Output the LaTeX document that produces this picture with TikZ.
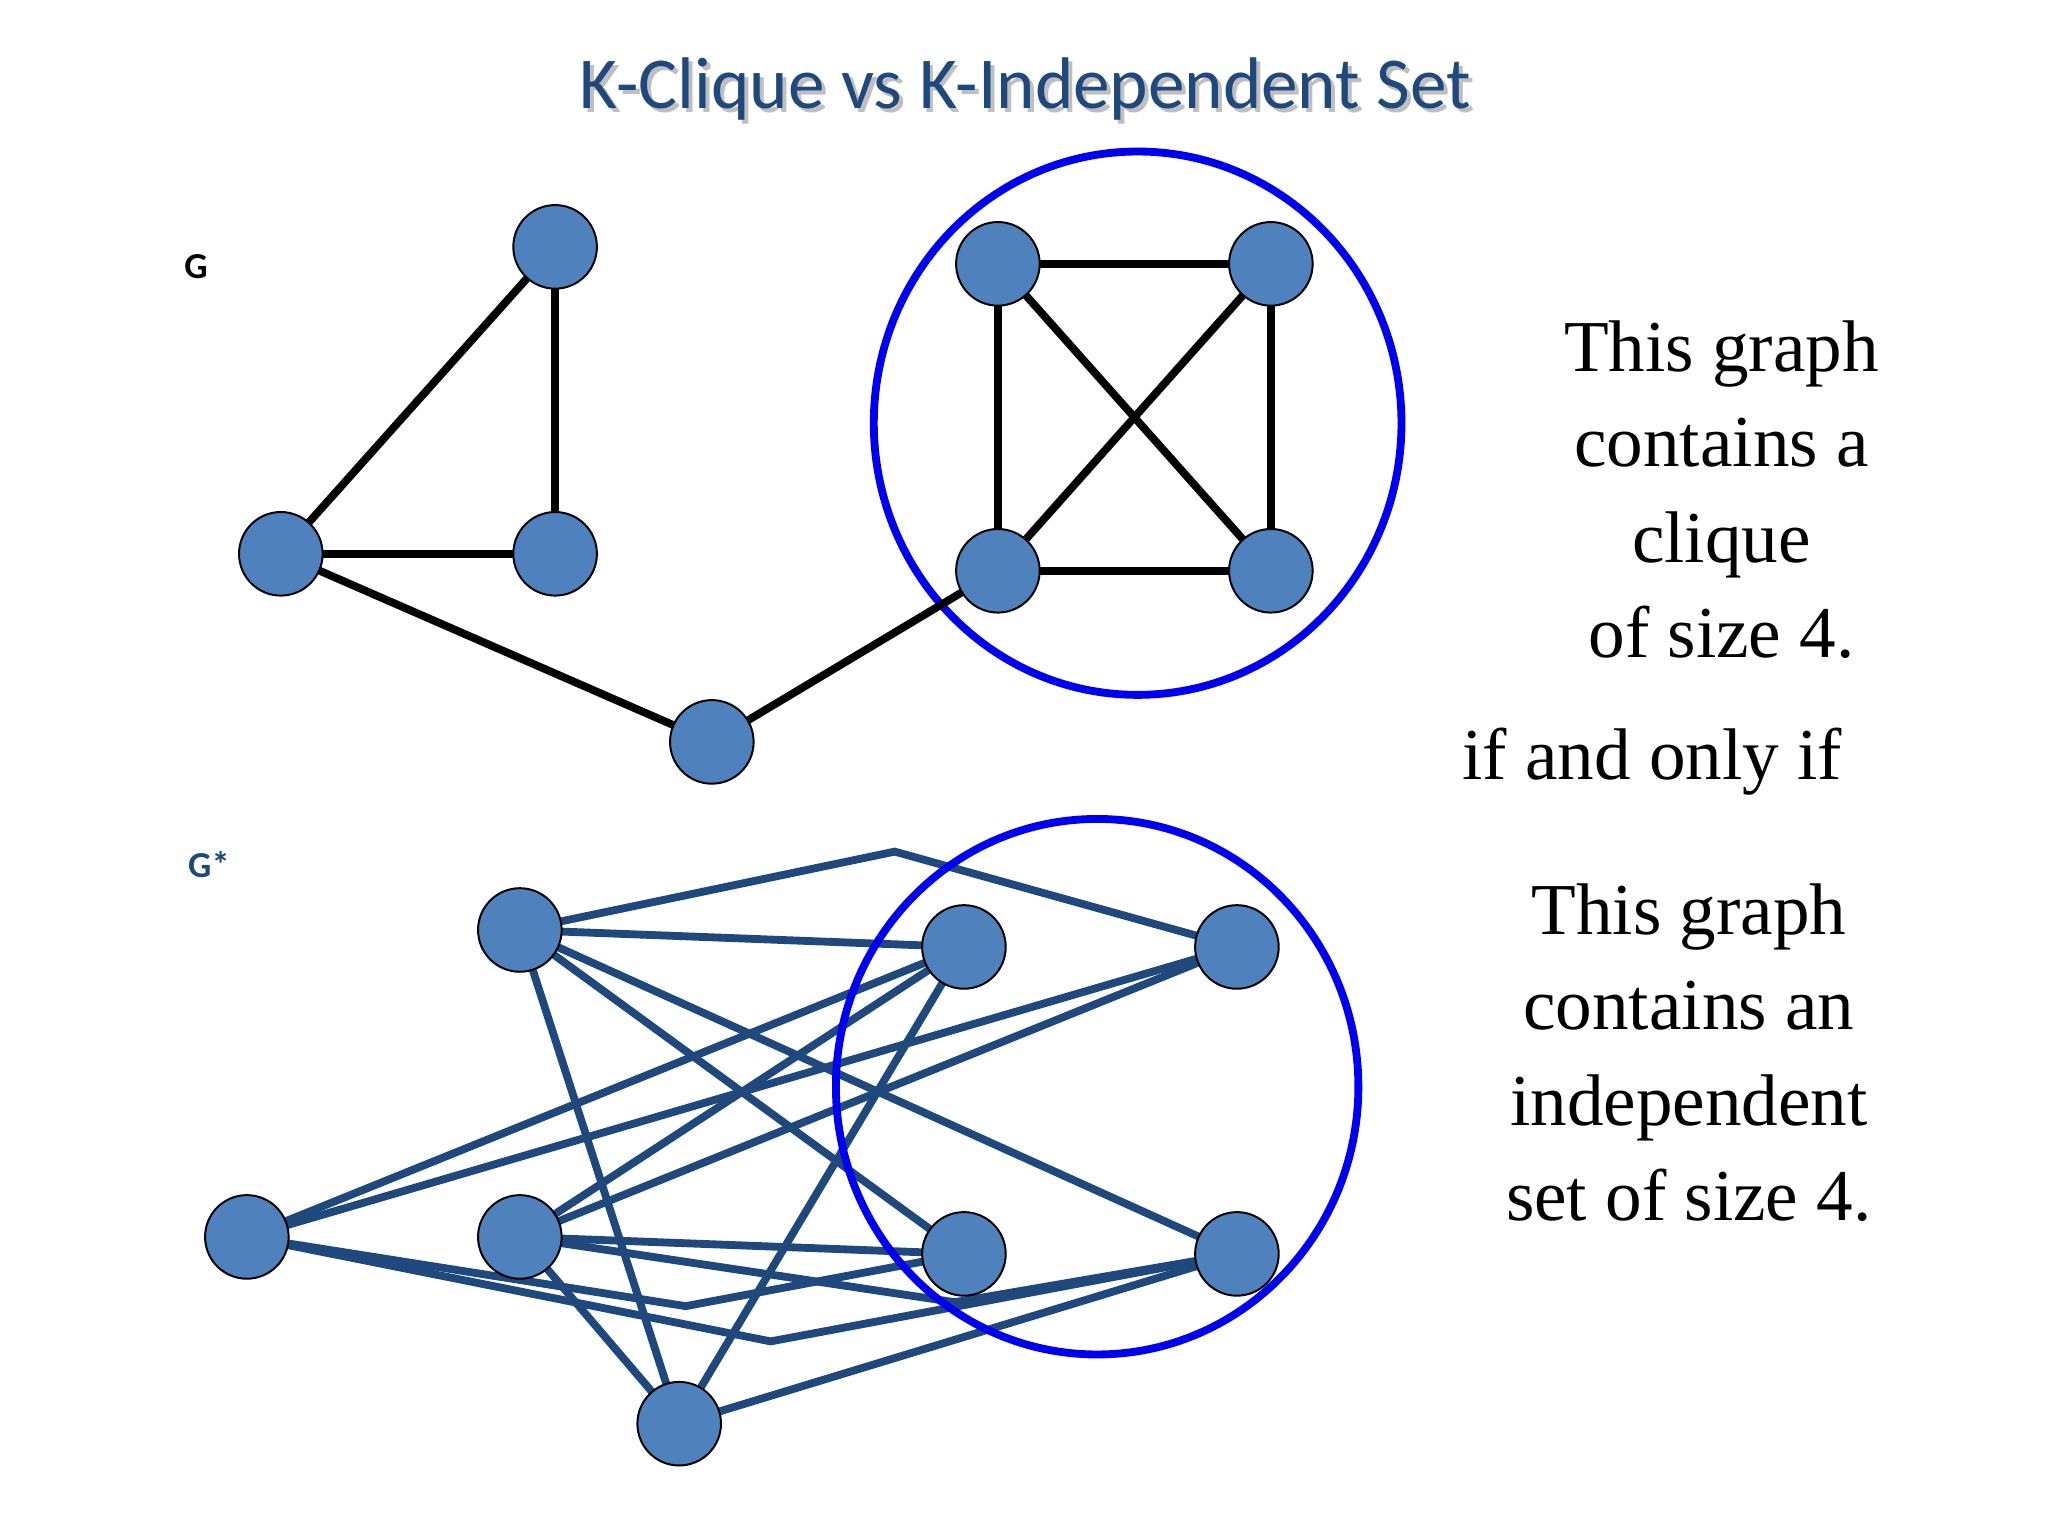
\documentclass[tikz,border=0pt]{standalone}
\usepackage{fontspec}
\setmainfont{Liberation Serif}
\newfontfamily\titlefont{Carlito}
\begin{document}
\begin{tikzpicture}[x=1pt,y=-1pt,
  vtx/.style={circle,draw=black,line width=1.5,fill=nodeblue,minimum size=64},
  ke/.style={line width=6,black},
  be/.style={line width=6,edgeblue},
  ring/.style={line width=6,draw=ringblue}]
\definecolor{nodeblue}{RGB}{79,129,189}
\definecolor{edgeblue}{RGB}{31,73,125}
\definecolor{ringblue}{RGB}{0,0,240}
\definecolor{titleblue}{RGB}{31,73,125}
\useasboundingbox (0,0) rectangle (1568,1176);
\node[font=\titlefont\fontsize{56}{60}\selectfont,text=gray!50] at (788,71) {K-Clique vs K-Independent Set};
\node[font=\titlefont\fontsize{56}{60}\selectfont,text=titleblue] (title) at (785,68) {K-Clique vs K-Independent Set};
\node[font=\titlefont\bfseries\fontsize{28}{30}\selectfont] (g) at (150,204) {G};
\node[font=\titlefont\bfseries\fontsize{28}{30}\selectfont,text=titleblue] (gs) at (160,662) {G*};
% top graph
\draw[ring] (871,324) ellipse [x radius=202,y radius=208];
\coordinate (A) at (425,189); \coordinate (B) at (215,424); \coordinate (C) at (425,424);
\coordinate (D) at (545,568); \coordinate (E) at (764,202); \coordinate (F) at (973,202);
\coordinate (H) at (764,437); \coordinate (I) at (973,437);
\foreach \u/\v in {A/B,A/C,B/C,B/D,D/H,E/F,E/H,E/I,F/H,F/I,H/I} \draw[ke] (\u)--(\v);
\foreach \n in {A,B,C,D,E,F,H,I} \node[vtx] (n\n) at (\n) {};
% bottom graph
\coordinate (P1) at (398,712); \coordinate (P2) at (738,725); \coordinate (P3) at (947,725);
\coordinate (P4) at (189,947); \coordinate (P5) at (398,947); \coordinate (P6) at (738,960);
\coordinate (P7) at (947,960); \coordinate (P8) at (520,1090);
\coordinate (k1) at (685,652); \coordinate (k2) at (525,1000); \coordinate (k3) at (590,1027); \coordinate (k4) at (731,997);
\draw[be] (P1)--(k1)--(P3);
\draw[be] (P4)--(k2)--(P6);
\draw[be] (P4)--(k3)--(P7);
\draw[be] (P5)--(k4)--(P7);
\foreach \u/\v in {P1/P2,P1/P8,P1/P6,P1/P7,P2/P4,P2/P5,P2/P8,P3/P4,P3/P5,P5/P6,P5/P8,P8/P7} \draw[be] (\u)--(\v);
\foreach \n in {P1,P2,P3,P4,P5,P6,P7,P8} \node[vtx] (n\n) at (\n) {};
\draw[ring] (840,832) ellipse [x radius=200,y radius=205];
% texts
\node[font=\fontsize{56}{73}\selectfont,align=center] (t1) at (1318,375) {This graph\\contains a\\clique\\of size 4.};
\node[font=\fontsize{56}{60}\selectfont] (t2) at (1265,583) {if and only if};
\node[font=\fontsize{56}{73}\selectfont,align=center] (t3) at (1293,806) {This graph\\contains an\\independent\\set of size 4.};
\end{tikzpicture}
\end{document}
